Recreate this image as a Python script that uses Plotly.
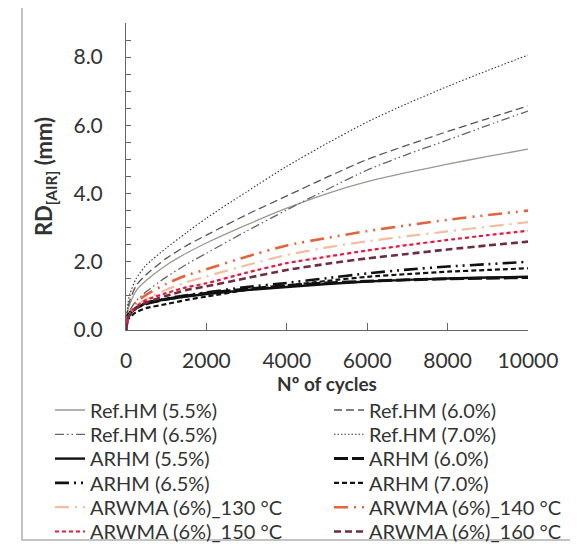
import plotly.graph_objects as go

cycles = [0, 50, 100, 250, 500, 1000, 1500, 2000, 3000, 4000, 5000, 6000, 7000, 8000, 9000, 10000]

ref_hm_55 = [0, 0.60, 0.78, 1.15, 1.45, 1.90, 2.25, 2.55, 3.08, 3.57, 4.00, 4.35, 4.62, 4.86, 5.09, 5.30]
ref_hm_60 = [0, 0.65, 0.88, 1.30, 1.62, 2.10, 2.47, 2.78, 3.38, 3.93, 4.48, 5.00, 5.42, 5.82, 6.20, 6.57]
ref_hm_65 = [0, 0.45, 0.59, 0.85, 1.12, 1.55, 1.92, 2.25, 2.90, 3.52, 4.12, 4.69, 5.15, 5.57, 6.00, 6.42]
ref_hm_70 = [0, 0.80, 1.07, 1.50, 1.90, 2.40, 2.85, 3.28, 4.05, 4.80, 5.47, 6.10, 6.64, 7.14, 7.61, 8.06]
arhm_55 = [0, 0.45, 0.52, 0.65, 0.78, 0.90, 0.98, 1.05, 1.17, 1.26, 1.35, 1.42, 1.47, 1.51, 1.54, 1.56]
arhm_60 = [0, 0.42, 0.50, 0.64, 0.77, 0.90, 1.00, 1.08, 1.20, 1.30, 1.38, 1.43, 1.47, 1.50, 1.52, 1.54]
arhm_65 = [0, 0.40, 0.50, 0.65, 0.80, 0.92, 1.02, 1.10, 1.26, 1.38, 1.52, 1.66, 1.77, 1.86, 1.93, 2.00]
arhm_70 = [0, 0.30, 0.38, 0.52, 0.64, 0.76, 0.88, 0.98, 1.17, 1.30, 1.44, 1.56, 1.64, 1.71, 1.76, 1.81]
arwma_130 = [0, 0.40, 0.50, 0.70, 0.90, 1.18, 1.40, 1.57, 1.90, 2.20, 2.42, 2.60, 2.75, 2.89, 3.03, 3.16]
arwma_140 = [0, 0.42, 0.55, 0.80, 1.03, 1.35, 1.60, 1.78, 2.15, 2.48, 2.70, 2.90, 3.07, 3.23, 3.37, 3.50]
arwma_150 = [0, 0.38, 0.48, 0.68, 0.88, 1.08, 1.25, 1.37, 1.68, 1.96, 2.15, 2.33, 2.49, 2.64, 2.78, 2.91]
arwma_160 = [0, 0.35, 0.45, 0.63, 0.80, 1.00, 1.17, 1.28, 1.52, 1.76, 1.94, 2.10, 2.23, 2.36, 2.48, 2.59]

x_tick_vals = [0, 2000, 4000, 6000, 8000, 10000]
x_tick_text = ["0", "2000", "4000", "6000", "8000", "10000"]
y_tick_vals = [0, 2, 4, 6, 8]
y_tick_text = ["0.0", "2.0", "4.0", "6.0", "8.0"]

series = [
    ("Ref.HM (5.5%)", ref_hm_55, "#9a9a90", 1.3, "solid"),
    ("Ref.HM (6.0%)", ref_hm_60, "#555555", 1.3, "8px,4px"),
    ("Ref.HM (6.5%)", ref_hm_65, "#666666", 1.3, "9px,3px,1.5px,3px,1.5px,3px"),
    ("Ref.HM (7.0%)", ref_hm_70, "#333333", 1.1, "1.5px,2px"),
    ("ARHM (5.5%)", arhm_55, "#111111", 2.4, "solid"),
    ("ARHM (6.0%)", arhm_60, "#111111", 3.0, "14px,4px"),
    ("ARHM (6.5%)", arhm_65, "#111111", 2.6, "14px,5px,2px,5px,2px,5px"),
    ("ARHM (7.0%)", arhm_70, "#111111", 2.2, "5px,3px"),
    ("ARWMA (6%)_130 °C", arwma_130, "#f5bda0", 2.2, "14px,6px,2px,6px"),
    ("ARWMA (6%)_140 °C", arwma_140, "#e2643c", 2.6, "14px,6px,2px,6px,2px,6px"),
    ("ARWMA (6%)_150 °C", arwma_150, "#e8183c", 2.2, "4px,3px"),
    ("ARWMA (6%)_160 °C", arwma_160, "#6e2c40", 2.6, "7px,4px"),
]

font_family = "Lato, 'Open Sans', sans-serif"
txt = "#333333"

# Plot area (figure coords): x 118..520, y 15..322 (page body adds 8px offset)
PLOT_W, PLOT_H = 402, 307
row0_screen, row_step = 410, 24.3          # legend row centres on screen
col_left_screen = [50, 329]                # legend box left edges on screen

fig = go.Figure()
legend_layouts = {}
for i, (name, vals, color, width, dash) in enumerate(series):
    key = "legend" if i == 0 else f"legend{i + 1}"
    fig.add_trace(go.Scatter(
        x=cycles, y=vals, name=name, mode="lines", showlegend=True,
        line=dict(color=color, width=width, dash=dash, shape="spline", smoothing=0.6),
        legend=key,
    ))
    row, col = divmod(i, 2)
    ys = row0_screen + row * row_step
    legend_layouts[key] = dict(
        x=(col_left_screen[col] - 126) / PLOT_W,
        y=(330 - ys) / PLOT_H,
        xanchor="left", yanchor="middle", orientation="v",
        font=dict(family=font_family, size=20, color=txt),
        bgcolor="rgba(0,0,0,0)", itemwidth=30,
    )

fig.update_layout(
    width=570, height=536,
    showlegend=True,
    margin=dict(l=118, r=50, t=15, b=214, autoexpand=False),
    paper_bgcolor="white", plot_bgcolor="white",
    font=dict(family=font_family, color=txt),
    xaxis=dict(
        range=[0, 10000], tickvals=x_tick_vals, ticktext=x_tick_text,
        showgrid=False, zeroline=False, showline=True, linecolor="#666666", linewidth=1,
        ticks="inside", ticklen=7, tickcolor="#666666",
        tickfont=dict(size=21, color=txt), ticklabelstandoff=12,
        title=dict(text="<b>Nº of cycles</b>", font=dict(size=19, color=txt), standoff=6),
    ),
    yaxis=dict(
        range=[0, 9], tickvals=y_tick_vals, ticktext=y_tick_text,
        showgrid=False, zeroline=False, showline=True, linecolor="#666666", linewidth=1,
        ticks="inside", ticklen=5, tickcolor="#666666",
        minor=dict(dtick=0.5, ticks="inside", ticklen=5, tickcolor="#666666", showgrid=False),
        tickfont=dict(size=21, color=txt), ticklabelstandoff=18,
        title=dict(text="<b>RD<sub>[AIR]</sub> (mm)</b>", font=dict(size=22, color=txt), standoff=14),
    ),
    shapes=[dict(
        type="rect", xref="paper", yref="paper",
        x0=(22 - 126) / PLOT_W, x1=(574 - 126) / PLOT_W,
        y0=(330 - 540) / PLOT_H, y1=(330 - 5) / PLOT_H,
        line=dict(color="#b0b0b0", width=1.5), fillcolor="rgba(0,0,0,0)", layer="below",
    )],
    **legend_layouts,
)

fig.write_html("out.html")
